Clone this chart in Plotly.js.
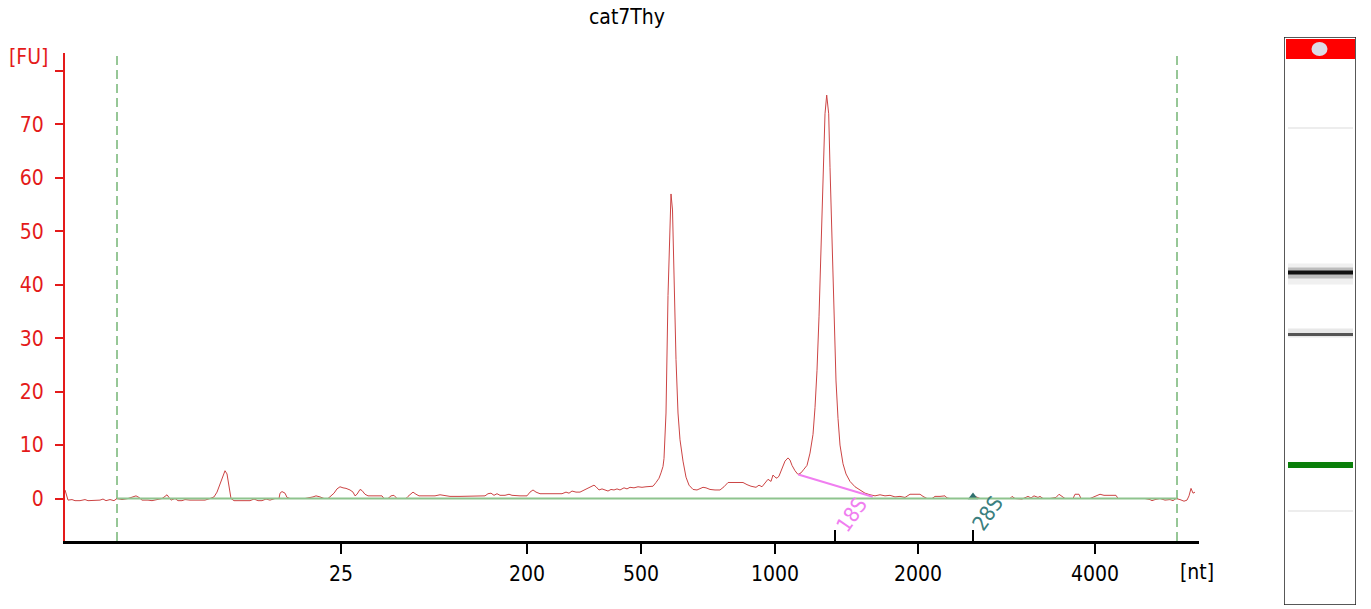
<!DOCTYPE html>
<html>
<head>
<meta charset="utf-8">
<script src="https://cdn.plot.ly/plotly-3.0.1.min.js"></script>
<style>html,body{margin:0;padding:0;background:#fff;}#chart{width:1371px;height:609px;}</style>
</head>
<body>
<div id="chart"></div>
<script>
// ---- data (migration time in s, fluorescence in FU) ----
const timeSec = [18.25,18.30,18.40,18.60,18.75,19.00,19.25,19.40,19.75,20.00,20.15,20.30,20.50,20.70,20.85,21.10,21.40,21.65,21.80,21.95,22.10,22.40,22.60,22.85,23.10,23.25,23.35,23.45,23.55,23.75,23.90,24.10,24.25,24.50,24.80,25.00,25.25,25.50,25.70,25.85,26.00,26.15,26.25,26.35,26.45,26.55,26.70,27.00,27.25,27.50,27.70,27.90,28.10,28.30,28.50,28.75,28.95,29.00,29.10,29.25,29.35,29.50,30.00,30.25,30.65,30.80,31.00,31.20,31.40,31.55,31.70,31.85,32.00,32.15,32.30,32.50,32.65,32.75,32.85,33.00,33.10,33.25,33.40,33.75,34.10,34.20,34.40,34.55,34.70,34.85,35.10,35.30,35.40,35.55,35.65,35.80,35.95,36.25,36.75,37.00,37.20,37.50,38.00,38.40,38.60,38.80,39.25,39.40,39.55,39.70,39.85,40.00,40.25,40.45,40.60,41.00,41.35,41.50,41.65,41.80,42.00,42.50,43.10,43.30,43.45,43.60,43.80,44.00,44.20,44.40,44.55,44.70,44.80,44.95,45.10,45.25,45.40,45.55,45.70,45.85,46.00,46.20,46.35,46.50,46.70,46.90,47.10,47.30,47.50,47.65,47.80,47.95,48.05,48.15,48.20,48.30,48.40,48.475,48.55,48.625,48.70,48.80,48.90,49.00,49.15,49.30,49.45,49.65,49.85,50.00,50.15,50.30,50.50,50.75,51.00,51.20,51.40,51.75,52.15,52.35,52.55,52.80,52.95,53.10,53.25,53.40,53.55,53.65,53.75,53.85,53.95,54.10,54.25,54.40,54.50,54.60,54.75,54.90,55.05,55.20,55.35,55.50,55.65,55.75,55.85,55.95,56.05,56.15,56.25,56.335,56.435,56.50,56.60,56.70,56.80,56.90,57.00,57.15,57.30,57.50,57.75,58.00,58.25,58.50,58.75,59.00,59.25,59.50,59.75,60.00,60.25,60.50,60.75,61.00,61.15,61.35,61.60,61.75,62.00,62.25,62.35,62.50,63.00,63.50,63.70,63.85,64.00,64.50,65.00,65.50,65.60,65.75,66.10,66.25,66.40,66.55,66.70,66.90,67.00,67.15,67.50,67.80,67.95,68.10,68.25,68.65,68.75,68.95,69.05,69.50,69.85,70.00,70.20,70.40,70.60,70.80,70.90,71.25,71.75,72.25,72.50,72.60,72.75,73.00,73.25,73.50,73.65,73.80,74.00,74.20,74.35,74.45,74.55,74.65,74.75];
const fuSignal = [1.6,1.0,-0.3,-0.2,-0.4,-0.4,-0.2,-0.4,-0.4,-0.3,-0.1,-0.4,-0.2,-0.4,0.0,-0.2,0.0,0.3,0.5,0.2,-0.3,-0.3,-0.4,-0.2,0.0,0.4,0.7,0.2,-0.3,0.0,-0.4,-0.4,-0.2,-0.3,-0.3,-0.3,-0.3,0.0,0.3,1.2,2.6,4.2,5.2,4.6,2.0,0.0,-0.4,-0.4,-0.3,-0.4,-0.1,-0.4,-0.4,-0.1,-0.3,0.0,0.0,1.0,1.3,1.0,0.2,0.0,0.0,0.0,0.3,0.5,0.3,0.0,0.0,0.5,1.0,1.8,2.2,2.0,1.9,1.6,1.2,0.5,0.8,1.7,1.5,0.8,0.5,0.5,0.5,0.0,0.0,0.5,0.6,0.0,0.0,0.0,0.4,1.0,1.2,0.8,0.5,0.5,0.5,0.7,0.6,0.4,0.4,0.4,0.5,0.4,0.5,0.9,1.0,0.6,0.9,0.6,0.6,0.8,0.6,0.5,0.5,1.2,1.6,1.2,0.9,0.9,0.9,1.2,1.0,1.4,1.2,1.2,1.6,1.9,2.2,2.5,2.2,1.6,1.8,1.6,1.4,1.7,1.6,1.8,1.6,2.0,1.8,2.1,2.0,2.2,2.1,2.2,2.2,2.3,3.0,3.8,4.8,6.0,7.5,16,38,50,57.0,54,41,26,16,11,7,4,2.5,1.7,1.6,1.8,2.1,2.0,1.7,1.6,1.6,2.2,3.0,3.0,3.0,2.6,2.3,2.1,2.5,2.2,3.0,3.6,3.2,4.4,4.0,3.8,4.2,5.5,7.0,7.6,7.2,6.2,5.2,4.5,4.8,5.5,6.2,8.5,12,17,24,34,46,60,72,75.5,72,62,47,32,22,15,10,6.5,4.6,3.2,2.2,1.6,1.0,0.7,0.5,0.7,0.5,0.6,0.3,0.4,0.2,0.8,0.8,0.8,0.4,0.0,0.0,0.4,0.4,0.5,0.1,0.0,0.0,0.0,0.5,0.2,0.0,0.0,0.0,0.0,0.4,0.0,-0.1,0.2,0.4,0.1,0.5,0.2,0.4,0.0,0.0,0.2,0.8,0.4,0.0,0.0,0.8,0.8,0.0,0.0,0.5,0.8,0.6,0.6,0.5,0.6,0.0,0.0,0.0,0.0,-0.2,-0.4,-0.2,0.0,-0.3,-0.2,-0.4,0.0,-0.2,-0.5,-0.3,0.5,1.9,1.0,1.2];

const ladderNt   = ['25','200','500','1000','2000','4000'];
const ladderTime = [32.05, 41.35, 47.05, 53.75, 60.9, 69.75];
const yTickVals  = [0,10,20,30,40,50,60,70,80];
const yTickText  = ['0','10','20','30','40','50','60','70',''];
const alignMarkerTime = [20.85, 73.85];
const rRNANames = ['18S','28S'];
const rRNATime  = [56.75, 63.65];
const peak18SBaseTime = [54.915, 58.635];
const peak18SBaseFU   = [4.5, 0.34];
const peak28SMarkFU   = [0.3];
const gelBandPos   = [235.5, 297.5, 428, 474, 91];   // lane position (px from lane top)
const gelBandLevel = ['strong','medium','marker','faint','faint'];

// ---- layout geometry ----
const W = 1371, H = 609;
const ML = 65, MR = 15, MT = 37, MB = 4;
const PW = W - ML - MR, PH = H - MT - MB;
const FONT = 'DejaVu Sans Condensed, DejaVu Sans, sans-serif';
const FS = 21;
const RED = '#e41a1a';
const xDom = [0, (1199 - ML) / PW];
const yDom = [(H - MB - 541) / PH, (H - MB - 53) / PH];
const gelDom = [(1284 - ML) / PW, 1];

const shapes = [];
alignMarkerTime.forEach(t => shapes.push({type:'line', xref:'x', yref:'y domain', x0:t, x1:t, y0:0, y1:1,
  line:{color:'#2f8f2f', width:1, dash:'9px,5px'}, layer:'below'}));
shapes.push({type:'line', xref:'x', yref:'y', x0:alignMarkerTime[0], x1:alignMarkerTime[1], y0:0, y1:0,
  line:{color:'#8ec48e', width:2}, layer:'above'});
rRNATime.forEach(t => shapes.push({type:'line', xref:'x', yref:'y domain', x0:t, x1:t, y0:0, y1:11/488,
  line:{color:'#000', width:2}}));

// gel lane
shapes.push({type:'rect', xref:'x2', yref:'y2', x0:0, x1:72, y0:0, y1:568, fillcolor:'#ffffff', line:{color:'#222', width:1.5}, layer:'below'});
gelBandPos.forEach((p, i) => {
  const lvl = gelBandLevel[i];
  const add = (a, b, c) => shapes.push({type:'rect', xref:'x2', yref:'y2', x0:4, x1:69, y0:p+a, y1:p+b, fillcolor:c, line:{width:0}});
  if (lvl === 'strong') { add(-9, 12, '#f0f0f0'); add(-5, 6, '#bdbdbd'); add(-2, 2, '#111111'); }
  else if (lvl === 'medium') { add(-6, 3, '#e8e8e8'); add(-1.5, 1.5, '#555555'); }
  else if (lvl === 'marker') { add(-3, 3, '#0a7f0a'); }
  else { add(-1, 1, '#ededed'); }
});
shapes.push({type:'rect', xref:'x2', yref:'y2', x0:2, x1:71, y0:2, y1:22, fillcolor:'#ff0000', line:{width:0}});
shapes.push({type:'circle', xref:'x2', yref:'y2', x0:27.5, x1:43.5, y0:5, y1:19, fillcolor:'#dcdce6', line:{width:0}});

const traces = [
  {x: timeSec, y: fuSignal, type:'scatter', mode:'lines', line:{color:'#cc4444', width:1}},
  {x: peak18SBaseTime, y: peak18SBaseFU, type:'scatter', mode:'lines', line:{color:'#f07ef0', width:2}},
  {x: [rRNATime[1]], y: peak28SMarkFU, type:'scatter', mode:'markers', marker:{symbol:'triangle-up', size:9, color:'#2f6f6f'}},
  {x:[0], y:[0], xaxis:'x2', yaxis:'y2', type:'scatter', mode:'markers', marker:{opacity:0}}
];

const annotations = [
  {text:'[FU]', xref:'paper', yref:'paper', x:(28-ML)/PW, y:(H-MB-57)/PH, xanchor:'center', yanchor:'middle', showarrow:false, font:{family:FONT, size:FS, color:RED}},
  {text:'[nt]', xref:'paper', yref:'paper', x:(1197-ML)/PW, y:(H-MB-572)/PH, xanchor:'center', yanchor:'middle', showarrow:false, font:{family:FONT, size:FS, color:'#000'}},
  {text:rRNANames[0], xref:'x', yref:'y', x:rRNATime[0]+0.84, y:-3.1, xanchor:'center', yanchor:'middle', textangle:-55, showarrow:false, font:{family:FONT, size:FS, color:'#f07ef0'}},
  {text:rRNANames[1], xref:'x', yref:'y', x:rRNATime[1]+0.77, y:-2.8, xanchor:'center', yanchor:'middle', textangle:-55, showarrow:false, font:{family:FONT, size:FS, color:'#3a7f7f'}}
];

const layout = {
  width: W, height: H,
  margin: {l:ML, r:MR, t:MT, b:MB, pad:0},
  paper_bgcolor:'#fff', plot_bgcolor:'#fff',
  showlegend:false,
  font:{family:FONT, size:FS, color:'#000'},
  title:{text:'cat7Thy', x:627/W, xref:'container', xanchor:'center', y:1-17/H, yref:'container', yanchor:'middle', font:{family:FONT, size:FS, color:'#000'}},
  xaxis:{domain:xDom, range:[18.25, 74.95], showgrid:false, zeroline:false, showline:true, linecolor:'#000', linewidth:3,
    ticks:'outside', ticklen:10, tickwidth:2, tickcolor:'#000', tickmode:'array', tickvals:ladderTime, ticktext:ladderNt,
    tickfont:{family:FONT, size:FS, color:'#000'}, ticklabelstandoff:2, fixedrange:true},
  yaxis:{domain:yDom, range:[-7.95, 83.38], showgrid:false, zeroline:false, showline:true, linecolor:RED, linewidth:2,
    ticks:'outside', ticklen:8, tickwidth:2, tickcolor:RED, tickmode:'array', tickvals:yTickVals, ticktext:yTickText,
    tickfont:{family:FONT, size:FS, color:RED}, ticklabelstandoff:7, fixedrange:true},
  xaxis2:{domain:gelDom, range:[0,72], visible:false, fixedrange:true, anchor:'y2'},
  yaxis2:{domain:[0,1], range:[568,0], visible:false, fixedrange:true, anchor:'x2'},
  shapes: shapes,
  annotations: annotations
};

Plotly.newPlot('chart', traces, layout, {displayModeBar:false, staticPlot:true});
</script>
</body>
</html>
